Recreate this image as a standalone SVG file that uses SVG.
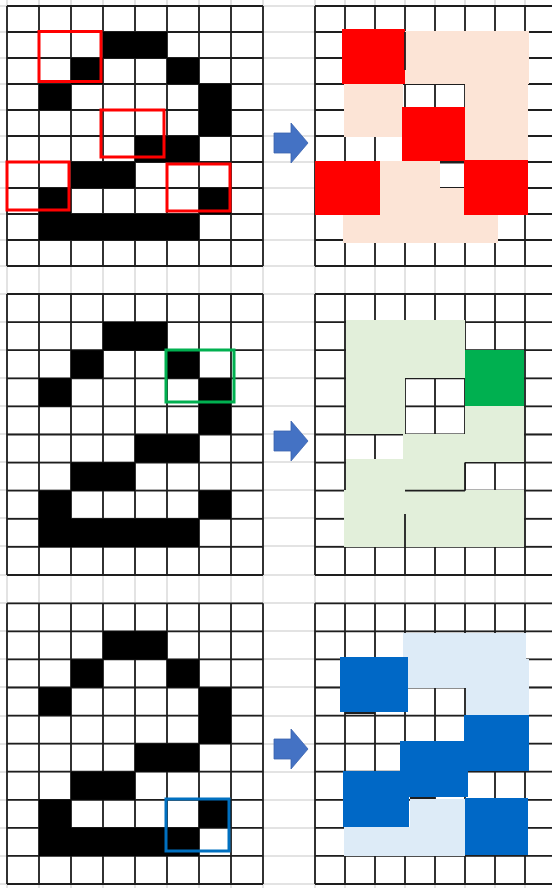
<svg xmlns="http://www.w3.org/2000/svg" xmlns:xlink="http://www.w3.org/1999/xlink" width="552" height="888" viewBox="0 0 552 888">
<style>
.bg{stroke:#dadada;stroke-width:1.5;fill:none}
.gl{stroke:#1e1e1e;stroke-width:1.8;fill:none;vector-effect:non-scaling-stroke}
.ov{stroke:#1e1e1e;stroke-width:1.8;fill:none}
.blk{fill:#000}
.pe{fill:#fce4d6}
.rd{fill:#ff0000}
.lg{fill:#e2efda}
.dg{fill:#00b050}
.lb{fill:#ddebf7}
.db{fill:#0068c6}
.box{fill:none;stroke-width:3}
.arr{fill:#4472c4;stroke:#3a62ad;stroke-width:0.8}
</style>
<defs>
<path id="grid" class="gl" d="M0,0V10M1,0V10M2,0V10M3,0V10M4,0V10M5,0V10M6,0V10M7,0V10M8,0V10M0,0H8M0,1H8M0,2H8M0,3H8M0,4H8M0,5H8M0,6H8M0,7H8M0,8H8M0,9H8M0,10H8"/>
<path id="two" class="blk" d="M3,1h2v1h-2zM2,2h1v1h-1zM5,2h1v1h-1zM1,3h1v1h-1zM6,3h1v2h-1zM4,5h2v1h-2zM2,6h2v1h-2zM1,7h1v1h-1zM6,7h1v1h-1zM1,8h5v1h-5z"/>
</defs>
<rect width="552" height="888" fill="#fff"/>
<g id="sheet-gridlines">
<path class="bg" d="M7,0V888M39,0V888M71,0V888M103,0V888M135,0V888M167,0V888M199,0V888M231,0V888M263,0V888M315,0V888M345,0V888M375,0V888M405,0V888M435,0V888M465,0V888M495,0V888M525,0V888"/>
<path class="bg" d="M0,6H552M0,32H552M0,58H552M0,84H552M0,110H552M0,136H552M0,162H552M0,188H552M0,214H552M0,240H552M0,266H552M0,294H552M0,322H552M0,350H552M0,378H552M0,406H552M0,434H552M0,462H552M0,490H552M0,518H552M0,546H552M0,575H552M0,603H552M0,631H552M0,659H552M0,687H552M0,716H552M0,744H552M0,772H552M0,800H552M0,828H552M0,856H552M0,884H552"/>
</g>
<g id="input-top">
<use xlink:href="#grid" transform="translate(7,6) scale(32,26)"/>
<use xlink:href="#two" transform="translate(7,6) scale(32,26)"/>
<rect class="box" stroke="#ff0000" x="39" y="31.5" width="62" height="50"/>
<rect class="box" stroke="#ff0000" x="101" y="110" width="63" height="47"/>
<rect class="box" stroke="#ff0000" x="7" y="162" width="62" height="48"/>
<rect class="box" stroke="#ff0000" x="167" y="164" width="63" height="47"/>
</g>
<g id="output-top">
<use xlink:href="#grid" transform="translate(315,6) scale(30,26)"/>
<rect class="pe" x="405" y="31" width="124" height="53"/>
<rect class="pe" x="465" y="84" width="63" height="77"/>
<rect class="pe" x="344" y="84" width="59" height="53"/>
<path class="pe" d="M380,161H440V188H465V215H380Z"/>
<rect class="pe" x="343" y="215" width="155" height="28"/>
<rect class="rd" x="342" y="29" width="63" height="55"/>
<rect class="rd" x="402" y="107" width="63" height="54"/>
<rect class="rd" x="315" y="161" width="65" height="54"/>
<rect class="rd" x="464" y="160" width="64" height="55"/>
<path class="ov" d="M440,162.5H464M405,32V70"/>
</g>
<g id="input-middle">
<use xlink:href="#grid" transform="translate(7,294) scale(32,28.1)"/>
<use xlink:href="#two" transform="translate(7,294) scale(32,28.1)"/>
<rect class="box" stroke="#00b050" x="166" y="350" width="68" height="52"/>
</g>
<g id="output-middle">
<use xlink:href="#grid" transform="translate(315,294) scale(30,28.1)"/>
<rect class="lg" x="346" y="320" width="119" height="58"/>
<rect class="lg" x="346" y="378" width="59" height="56"/>
<rect class="lg" x="465" y="406" width="59" height="56"/>
<rect class="lg" x="403" y="434" width="62" height="28"/>
<rect class="lg" x="346" y="459" width="119" height="32"/>
<rect class="lg" x="344" y="490" width="180" height="57"/>
<rect class="dg" x="465" y="350" width="59" height="56"/>
<path class="ov" d="M405,490.7H465M465,462.6V490.7M405,514V547"/>
</g>
<g id="input-bottom">
<use xlink:href="#grid" transform="translate(7,603.3) scale(32,28.07)"/>
<use xlink:href="#two" transform="translate(7,603.3) scale(32,28.07)"/>
<rect class="box" stroke="#0070c0" x="166" y="799" width="63" height="52"/>
</g>
<g id="output-bottom">
<use xlink:href="#grid" transform="translate(315,603.3) scale(30,28.07)"/>
<rect class="lb" x="403" y="633" width="123" height="27"/>
<rect class="lb" x="405" y="659" width="124" height="29"/>
<rect class="lb" x="466" y="659" width="63" height="56"/>
<rect class="lb" x="410" y="799" width="55" height="57"/>
<rect class="lb" x="344" y="827" width="121" height="29"/>
<rect class="db" x="340" y="657" width="68" height="55"/>
<rect class="db" x="464" y="715" width="65" height="56"/>
<rect class="db" x="400" y="741" width="68" height="56"/>
<rect class="db" x="343" y="771" width="66" height="56"/>
<rect class="db" x="465" y="798" width="63" height="57"/>
<path class="ov" d="M345,713H375M410,798H435"/>
</g>
<g id="connectors">
<path class="arr" d="M274,133H291V123L308,143L291,163V153H274Z"/>
<path class="arr" d="M274,431H291V421L308,441L291,461V451H274Z"/>
<path class="arr" d="M274,739H291V729L308,749L291,769V759H274Z"/>
</g>
</svg>
